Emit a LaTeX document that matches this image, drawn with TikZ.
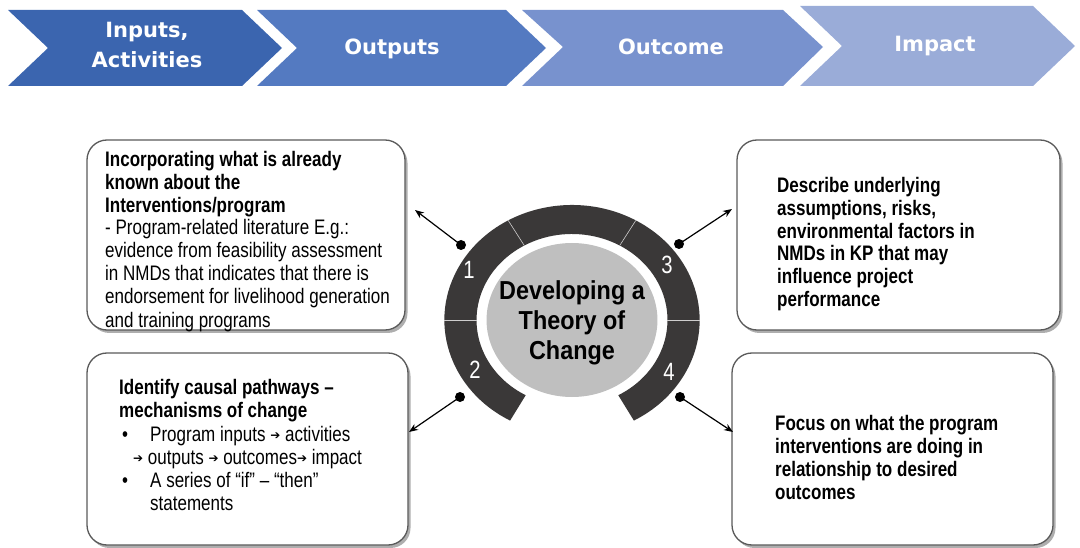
\documentclass[tikz,border=0pt]{standalone}
\usepackage{fontspec}
\setmainfont{Liberation Sans}
\newfontfamily\cond[FakeStretch=0.81]{Liberation Sans}
\newfontfamily\condc[FakeStretch=0.9]{Liberation Sans}
\newfontfamily\chevfont{DejaVu Sans}
\newfontfamily\arrfont{DejaVu Sans}
\usetikzlibrary{shadows,arrows.meta}
\definecolor{chevA}{RGB}{59,101,175}
\definecolor{chevB}{RGB}{84,122,193}
\definecolor{chevC}{RGB}{120,146,206}
\definecolor{chevD}{RGB}{154,172,216}
\definecolor{ringgray}{RGB}{58,56,56}
\definecolor{diskgray}{RGB}{191,191,191}
\definecolor{boxgray}{RGB}{90,90,90}
\newcommand{\tarr}{{\arrfont\fontsize{12}{12}\selectfont\raisebox{1.5pt}{➔}}}
\begin{document}
\begin{tikzpicture}[x=1pt,y=-1pt,
  box/.style={draw=boxgray, line width=1.3pt, rounded corners=20pt, fill=white,
    drop shadow={shadow xshift=2.5pt, shadow yshift=-3pt, opacity=0.45, fill=black!70}},
  txt/.style={anchor=base west, inner sep=0pt, align=left, font=\cond\fontsize{21}{23}\selectfont},
  chevtxt/.style={inner sep=0pt, align=center, text=white, font=\chevfont\bfseries\fontsize{21}{30}\selectfont},
  num/.style={inner sep=0pt, text=white, font=\cond\fontsize{25}{25}\selectfont},
  dot/.style={circle, fill=black, inner sep=0pt, minimum size=10pt},
  conn/.style={line width=1.2pt, -{Stealth[length=9pt,width=7pt]}}]
\useasboundingbox (0,0) rectangle (1080,548);
% chevrons
\fill[chevA] (8,10) -- (242,10) -- (282,48) -- (242,86) -- (8,86) -- (48,48) -- cycle;
\fill[chevB] (257,10) -- (506,10) -- (546,48) -- (506,86) -- (257,86) -- (297,48) -- cycle;
\fill[chevC] (522,10) -- (783,10) -- (823,47) -- (783,86) -- (522,86) -- (563,47) -- cycle;
\fill[chevD] (800,6) -- (1033,6) -- (1075,46) -- (1033,86) -- (800,86) -- (842,46) -- cycle;
\node[chevtxt, anchor=base] (c1) at (147,68) {Inputs,\\Activities};
\node[chevtxt, anchor=base] (c2) at (392,55) {Outputs};
\node[chevtxt, anchor=base] (c3) at (671,55) {Outcome};
\node[chevtxt, anchor=base] (c4) at (935,52) {Impact};
% ring
\begin{scope}[shift={(572,320)}, x=1.11pt, y=1pt]
  \fill[ringgray] (241:115) arc[start angle=241, end angle=-61, radius=115]
     -- (-61:86) arc[start angle=-61, end angle=241, radius=86] -- cycle;
  \foreach \a in {180,120,60,0}
    \draw[white!75!ringgray, line width=0.6pt] (\a:86) -- (\a:115);
  \fill[diskgray] (0,0) circle[radius=77];
\end{scope}
\node[inner sep=0pt, align=center, font=\condc\bfseries\fontsize{26}{30}\selectfont] (ctr) at (572,323) {Developing a\\Theory of\\Change};
\node[num] (n1) at (469,270) {1};
\node[num] (n2) at (475,370) {2};
\node[num] (n3) at (667,265) {3};
\node[num] (n4) at (669,372) {4};
% boxes
\node[box, minimum width=318pt, minimum height=190pt] (b1) at (246,235) {};
\node[box, minimum width=321pt, minimum height=192pt] (b2) at (247.5,449) {};
\node[box, minimum width=323pt, minimum height=190pt] (b3) at (898.5,235) {};
\node[box, minimum width=321pt, minimum height=192pt] (b4) at (892.5,449) {};
% box texts (base anchor = baseline of last line)
\node[txt] (t1) at (105,327) {\bfseries Incorporating what is already\\\bfseries known about the\\\bfseries Interventions/program\\- Program-related literature E.g.:\\evidence from feasibility assessment\\in NMDs that indicates that there is\\endorsement for livelihood generation\\and training programs};
\node[txt] (t2) at (119,417) {\bfseries Identify causal pathways –\\\bfseries mechanisms of change};
\node[txt] (t2a) at (122,441) {•};
\node[txt] (t2b) at (150,441) {Program inputs \tarr{} activities};
\node[txt] (t2c) at (133,464) {\tarr{} outputs \tarr{} outcomes\tarr{} impact};
\node[txt] (t2d) at (122,487) {•};
\node[txt] (t2e) at (150,510) {A series of “if” – “then”\\statements};
\node[txt] (t3) at (777,307) {\bfseries Describe underlying\\\bfseries assumptions, risks,\\\bfseries environmental factors in\\\bfseries NMDs in KP that may\\\bfseries influence project\\\bfseries performance};
\node[txt] (t4) at (775,499) {\bfseries Focus on what the program\\\bfseries interventions are doing in\\\bfseries relationship to desired\\\bfseries outcomes};
% connectors
\node[dot] (d1) at (461,245) {};
\node[dot] (d2) at (460,397) {};
\node[dot] (d3) at (679,244) {};
\node[dot] (d4) at (680,397) {};
\coordinate (e1) at (415,210);
\coordinate (e2) at (409,432);
\coordinate (e3) at (732,209);
\coordinate (e4) at (733,432);
\draw[conn] (d1.center) -- (e1);
\draw[conn] (d2.center) -- (e2);
\draw[conn] (d3.center) -- (e3);
\draw[conn] (d4.center) -- (e4);
\end{tikzpicture}
\end{document}
